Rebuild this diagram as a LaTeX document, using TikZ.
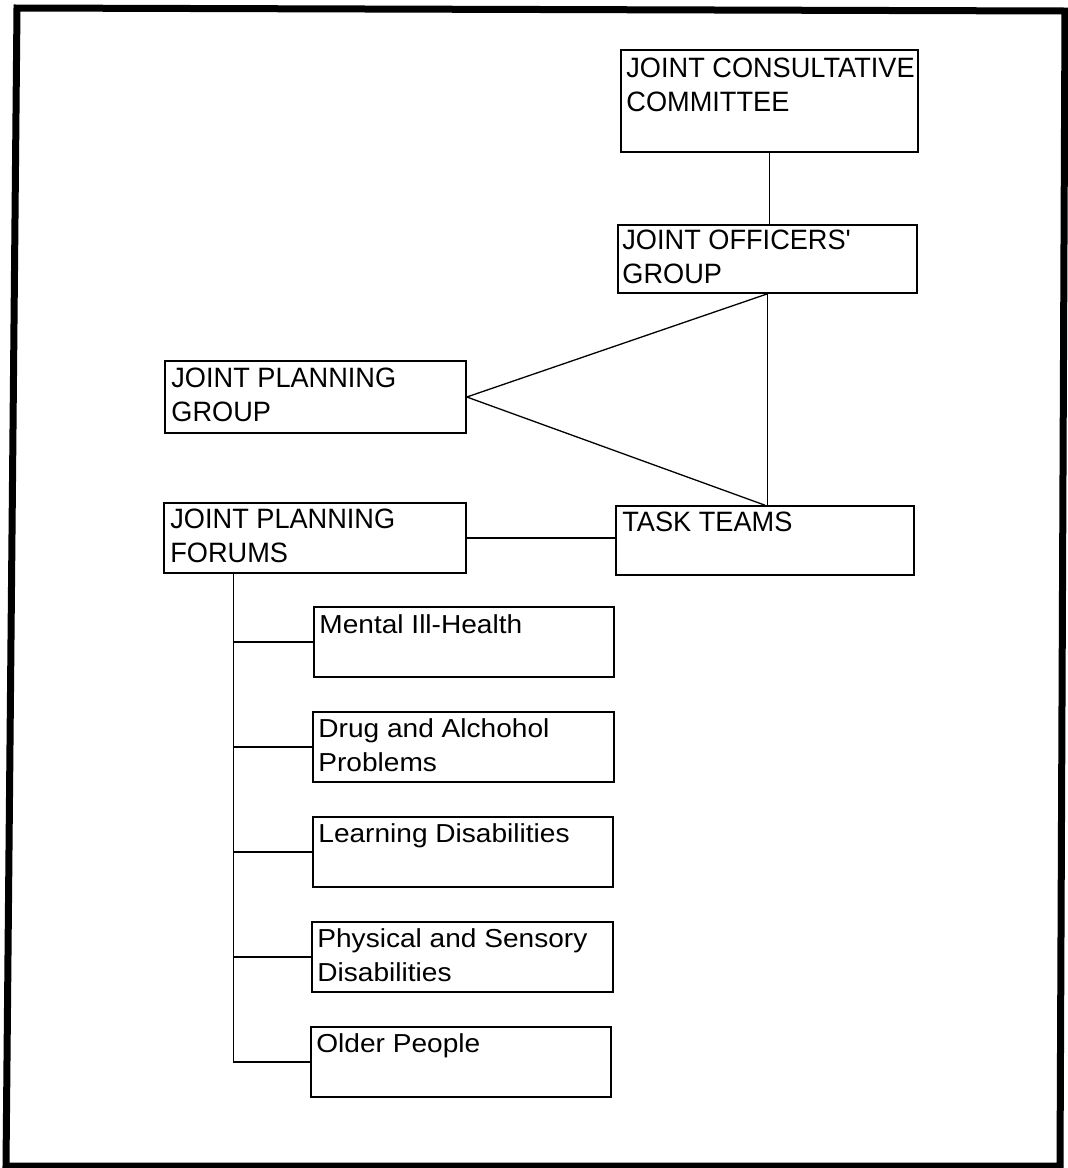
\documentclass[tikz,border=0pt]{standalone}
\usepackage{fontspec}
\setmainfont{Liberation Sans}
\newfontfamily\topfont[FakeStretch=0.97]{Liberation Sans}
\newfontfamily\botfont[FakeStretch=1.08]{Liberation Sans}
\usetikzlibrary{calc}
\begin{document}
\begin{tikzpicture}[x=1pt,y=-1pt,
  box/.style={draw, line width=1.6pt, rectangle, inner sep=0pt},
  conn/.style={line width=1.3pt},
  twolines/.style={yshift=-34pt},
  toptxt/.style={anchor=base west, inner sep=0pt, align=left, font=\topfont\fontsize{28}{34}\selectfont},
  bottxt/.style={anchor=base west, inner sep=0pt, align=left, font=\botfont\fontsize{26}{34}\selectfont}]
\useasboundingbox (0,0) rectangle (1068,1168);
% outer frame (slightly skewed scan)
\draw[line width=7pt, line join=miter] (17,8) -- (1065,11) -- (1060,1166) -- (6,1166) -- cycle;

% boxes
\node[box, minimum width=297pt, minimum height=102pt] (jcc) at (769.5,101) {};
\node[box, minimum width=299pt, minimum height=68pt] (jog) at (767.5,259) {};
\node[box, minimum width=301pt, minimum height=72pt] (jpg) at (315.5,397) {};
\node[box, minimum width=302pt, minimum height=70pt] (jpf) at (315,538) {};
\node[box, minimum width=298pt, minimum height=69pt] (tt) at (765,540.5) {};
\node[box, minimum width=300pt, minimum height=70pt] (mh) at (464,642) {};
\node[box, minimum width=301pt, minimum height=70pt] (da) at (463.5,747) {};
\node[box, minimum width=300pt, minimum height=70pt] (ld) at (463,852) {};
\node[box, minimum width=301pt, minimum height=70pt] (ps) at (462.5,957) {};
\node[box, minimum width=300pt, minimum height=70pt] (op) at (461,1062) {};

% texts
\node[toptxt, twolines] (jcc-t) at ($(jcc.north west)+(6,28)$) {JOINT CONSULTATIVE\\COMMITTEE};
\node[toptxt, twolines] (jog-t) at ($(jog.north west)+(5,25)$) {JOINT OFFICERS'\\GROUP};
\node[toptxt, twolines] (jpg-t) at ($(jpg.north west)+(7,27)$) {JOINT PLANNING\\GROUP};
\node[toptxt, twolines] (jpf-t) at ($(jpf.north west)+(7,26)$) {JOINT PLANNING\\FORUMS};
\node[toptxt] (tt-t) at ($(tt.north west)+(7,26)$) {TASK TEAMS};
\node[bottxt] (mh-t) at ($(mh.north west)+(6,27)$) {Mental Ill-Health};
\node[bottxt, twolines] (da-t) at ($(da.north west)+(6,26)$) {Drug and Alchohol\\Problems};
\node[bottxt] (ld-t) at ($(ld.north west)+(6,26)$) {Learning Disabilities};
\node[bottxt, twolines] (ps-t) at ($(ps.north west)+(6,26)$) {Physical and Sensory\\Disabilities};
\node[bottxt] (op-t) at ($(op.north west)+(6,26)$) {Older People};

% connectors
\draw[conn] (jcc.south) -- (jcc.south |- jog.north);
\draw[conn] (jpg.east) -- (jog.south);
\draw[conn] (jpg.east) -- (tt.north);
\draw[conn] (jog.south) -- (jog.south |- tt.north);
\draw[conn] (jpf.east) -- (jpf.east -| tt.west);
\coordinate (spine) at ($(jpf.south west)+(70,0)$);
\draw[conn] (spine) -- (spine |- op.west);
\foreach \c in {mh,da,ld,ps,op}{
  \draw[conn] (spine |- \c.west) -- (\c.west);
}
\end{tikzpicture}
\end{document}
